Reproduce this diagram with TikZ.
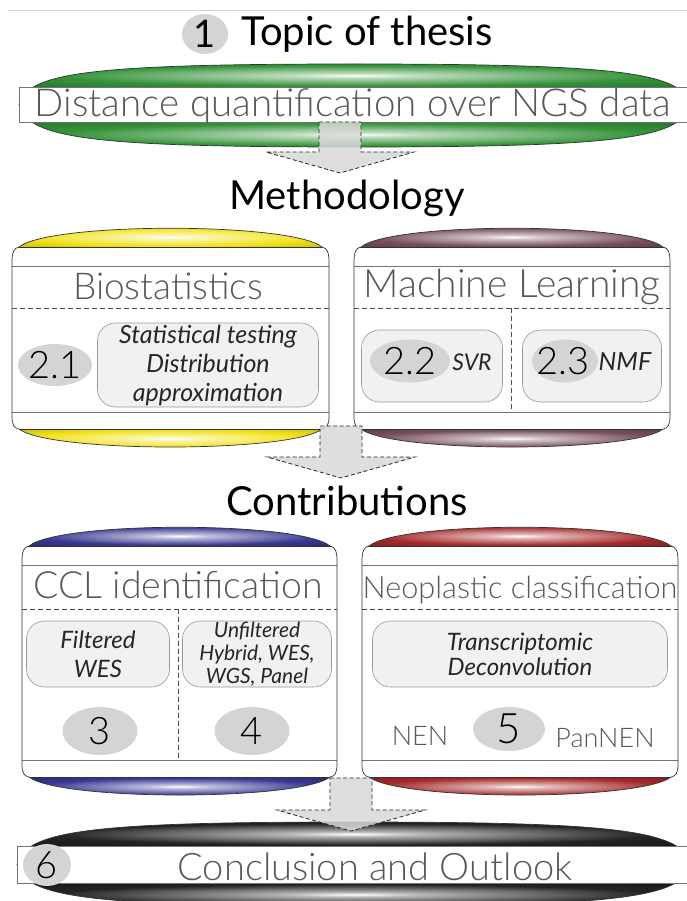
\documentclass[tikz,border=0pt]{standalone}
\usepackage{fontspec}
\usepackage{xcolor}
\usepackage{tikz}
\usetikzlibrary{calc}
\usetikzlibrary{shapes.geometric}

\setmainfont{Lato}[UprightFont = Lato, ItalicFont = Lato Italic, BoldFont = Lato Bold]
\IfFontExistsTF{Lato Light}
  {\newfontfamily\thinfont{Lato Light}}
  {\newfontfamily\thinfont{Lato}}
\newcommand{\fsz}[2]{\fontsize{#1}{#2}\selectfont}

\definecolor{capgreen}{RGB}{30,135,35}
\definecolor{capyellow}{RGB}{240,222,0}
\definecolor{capmauve}{RGB}{105,60,72}
\definecolor{capblue}{RGB}{35,35,135}
\definecolor{capred}{RGB}{155,20,20}
\definecolor{capblack}{RGB}{12,12,12}
\definecolor{labelgray}{RGB}{88,88,88}
\definecolor{numgray}{RGB}{212,212,212}
\definecolor{softgray}{RGB}{241,241,241}

% glossy cap: white streak in the middle, colour towards the rim
\colorlet{capcol}{gray}
\pgfdeclareradialshading[capcol]{gloss}{\pgfpoint{0bp}{0bp}}{%
  color(0bp)=(white); color(5bp)=(capcol!30); color(22bp)=(capcol!90);
  color(50bp)=(capcol!65!black)}

\tikzset{>=latex}
\tikzset{gloss/.style = {/utils/exec = {\colorlet{capcol}{#1}}, shading = gloss}}
\tikzstyle{boxline} = [draw = black!80, line width = 0.7]
\tikzstyle{bandline} = [draw = black!55, line width = 0.7]
\tikzstyle{sepline} = [draw = black!70, dash pattern = on 5pt off 3pt, line width = 0.7]
\tikzstyle{headline} = [draw = none, inner sep = 0, anchor = base, font = \fsz{40}{42}]
\tikzstyle{graytext} = [draw = none, inner sep = 0, anchor = base, text = labelgray]
\tikzstyle{numblob} = [ellipse, draw = none, fill = numgray, inner sep = 0]
\tikzstyle{numtext} = [draw = none, inner sep = 0, text = black, font = \thinfont\fsz{38}{38}]
\tikzstyle{softbox} = [draw = black!40, fill = softgray, rounded corners = 18, line width = 0.6,
                       inner sep = 0, align = center, text = black!85]
\tikzstyle{itext} = [draw = none, inner sep = 0, align = center, text = black!85]
\tikzstyle{blockarrow} = [draw = black!85, dash pattern = on 4pt off 2.5pt, line width = 0.8,
                          fill = black!15, fill opacity = 0.85]

% #1 left, #2 right, #3 top of upper cap, #4 bottom of lower cap, #5 colour
\newcommand{\capbox}[5]{%
  \def\capoutline{(#1,#3+34) .. controls (#1,#3+24) and (#1+2,#3+20) .. (#1+7,#3+19)
    .. controls (#1+38,#3-6) and (#2-38,#3-6) .. (#2-7,#3+19)
    .. controls (#2-2,#3+20) and (#2,#3+24) .. (#2,#3+34)
    -- (#2,#4-31) .. controls (#2,#4-22) and (#2-2,#4-19) .. (#2-7,#4-18)
    .. controls (#2-38,#4+6) and (#1+38,#4+6) .. (#1+7,#4-18)
    .. controls (#1+2,#4-19) and (#1,#4-22) .. (#1,#4-31) -- cycle}%
  \begin{scope}
    \clip \capoutline;
    \shade[gloss = #5] (#1,#3-1) rectangle (#2,#3+19);
    \shade[gloss = #5] (#1,#4-18) rectangle (#2,#4+1);
  \end{scope}
  \draw[boxline] (#1+7,#3+19) -- (#2-7,#3+19) (#1+7,#4-18) -- (#2-7,#4-18);
  \draw[bandline] (#1,#3+38) -- (#2,#3+38) (#1,#4-35) -- (#2,#4-35);
  \draw[boxline] \capoutline;
}

% #1 left tip, #2 right tip, #3 top, #4 band top, #5 band bottom, #6 bottom, #7 colour
\newcommand{\lensbar}[7]{%
  \pgfmathsetmacro\lensx{(#1+#2)/2}%
  \pgfmathsetmacro\lensy{(#4+#5)/2}%
  \def\lensoutline{(#1,\lensy) .. controls (#1+8,#3+8) and (\lensx-260,#3) .. (\lensx,#3)
    .. controls (\lensx+260,#3) and (#2-8,#3+8) .. (#2,\lensy)
    .. controls (#2-8,#6-8) and (\lensx+260,#6) .. (\lensx,#6)
    .. controls (\lensx-260,#6) and (#1+8,#6-8) .. cycle}%
  \begin{scope}
    \clip \lensoutline;
    \shade[gloss = #7] (#1,#3) rectangle (#2,#4);
    \shade[gloss = #7] (#1,#5) rectangle (#2,#6);
  \end{scope}
  \draw[boxline] \lensoutline;
  \draw[bandline, fill = white] (#1,#4) rectangle (#2-3,#5);
}

\begin{document}
\begin{tikzpicture}[x = 1pt, y = -1pt]
\useasboundingbox (0,0) rectangle (687,901);
\fill[white] (0,0) rectangle (687,901);
\draw[draw = black!18, line width = 0.6] (8,10) -- (687,10);

% topic
\node [numblob, minimum width = 46, minimum height = 40] (b1) at (205,34) {};
\node [numtext, font = \fsz{38}{38}] (n1) at (b1) {1};
\node [headline] (topic) at (367,46) {Topic of thesis};
\lensbar{19}{690}{64}{87}{122}{147}{capgreen}
\node [graytext, font = \thinfont\fsz{38.5}{39}] (ngs) at (353,117) {Distance quantification over NGS data};

% methodology
\node [headline] (method) at (347,210) {Methodology};
\capbox{12}{329}{228}{447}{capyellow}
\capbox{354}{670}{228}{447}{capmauve}
\draw [sepline] (12,308) -- (329,308);
\draw [sepline] (354,308) -- (670,308) (511,308) -- (511,412);
\node [graytext, font = \thinfont\fsz{37}{37}] (bio) at (168,299) {Biostatistics};
\node [graytext, font = \thinfont\fsz{39}{39}] (ml) at (512,297) {Machine Learning};
\node [numblob, minimum width = 74, minimum height = 42] (b21) at (55,365) {};
\node [numtext] (n21) at (b21) {2.1};
\node [softbox, minimum width = 221, minimum height = 84, font = \itshape\fsz{25}{29}] (stat) at (208,365)
  {Statistical testing\\Distribution\\approximation};
\node [softbox, minimum width = 141, minimum height = 72] (svrbox) at (432,366) {};
\node [numblob, minimum width = 80, minimum height = 43] (b22) at (410,361) {};
\node [numtext] (n22) at (b22) {2.2};
\node [itext, font = \itshape\fsz{23}{23}] (svr) at (472,362) {SVR};
\node [softbox, minimum width = 139, minimum height = 72] (nmfbox) at (592,366) {};
\node [numblob, minimum width = 66, minimum height = 43] (b23) at (565,361) {};
\node [numtext] (n23) at (563,361) {2.3};
\node [itext, font = \itshape\fsz{25}{25}] (nmf) at (625,362) {NMF};

% contributions
\node [headline] (contrib) at (347,515) {Contributions};
\capbox{22}{337}{527}{795}{capblue}
\capbox{362}{678}{527}{795}{capred}
\draw [sepline] (22,609) -- (337,609) (178,609) -- (178,760);
\draw [sepline] (362,609) -- (678,609);
\node [graytext, font = \thinfont\fsz{37.5}{38}] (ccl) at (178,598) {CCL identification};
\node [graytext, font = \thinfont\fsz{30.7}{31}] (neo) at (520,598) {Neoplastic classification};
\node [softbox, minimum width = 143, minimum height = 66, font = \itshape\fsz{24}{29}] (filt) at (98,654)
  {Filtered\\WES};
\node [softbox, minimum width = 149, minimum height = 66, font = \itshape\fsz{21}{23}] (unfilt) at (257,654)
  {Unfiltered\\Hybrid, WES,\\WGS, Panel};
\node [numblob, minimum width = 75, minimum height = 48] (b3) at (100,731) {};
\node [numtext] (n3) at (b3) {3};
\node [numblob, minimum width = 75, minimum height = 48] (b4) at (252,731) {};
\node [numtext] (n4) at (b4) {4};
\node [softbox, minimum width = 295, minimum height = 66, font = \itshape\fsz{24}{25}] (trans) at (520,654)
  {Transcriptomic\\Deconvolution};
\node [numblob, minimum width = 72, minimum height = 44] (b5) at (509,729) {};
\node [numtext, font = \thinfont\fsz{42}{42}] (n5) at (b5) {5};
\node [graytext, font = \thinfont\fsz{27}{27}] (nen) at (420,745) {NEN};
\node [graytext, font = \thinfont\fsz{27}{27}] (pannen) at (605,747) {PanNEN};

% conclusion
\lensbar{17}{691}{822}{846}{883}{906}{capblack}
\node [numblob, minimum width = 48, minimum height = 42] (b6) at (47,865) {};
\node [numtext] (n6) at (b6) {6};
\node [graytext, font = \thinfont\fsz{38}{38}] (concl) at (375,880) {Conclusion and Outlook};

% block arrows between the stages
\coordinate (atop1) at (340,122);
\coordinate (atip1) at (340,173);
\coordinate (atop2) at (341,426);
\coordinate (atip2) at (341,478);
\coordinate (atop3) at (351,778);
\coordinate (atip3) at (351,831);
\foreach \i in {1,2,3} {
  \draw [blockarrow] ($(atop\i)+(-21,0)$) -- ($(atop\i)+(21,0)$) -- ($(atip\i)+(21,-21)$)
    -- ($(atip\i)+(74,-21)$) -- (atip\i) -- ($(atip\i)+(-74,-21)$) -- ($(atip\i)+(-21,-21)$) -- cycle;
}
\end{tikzpicture}
\end{document}
